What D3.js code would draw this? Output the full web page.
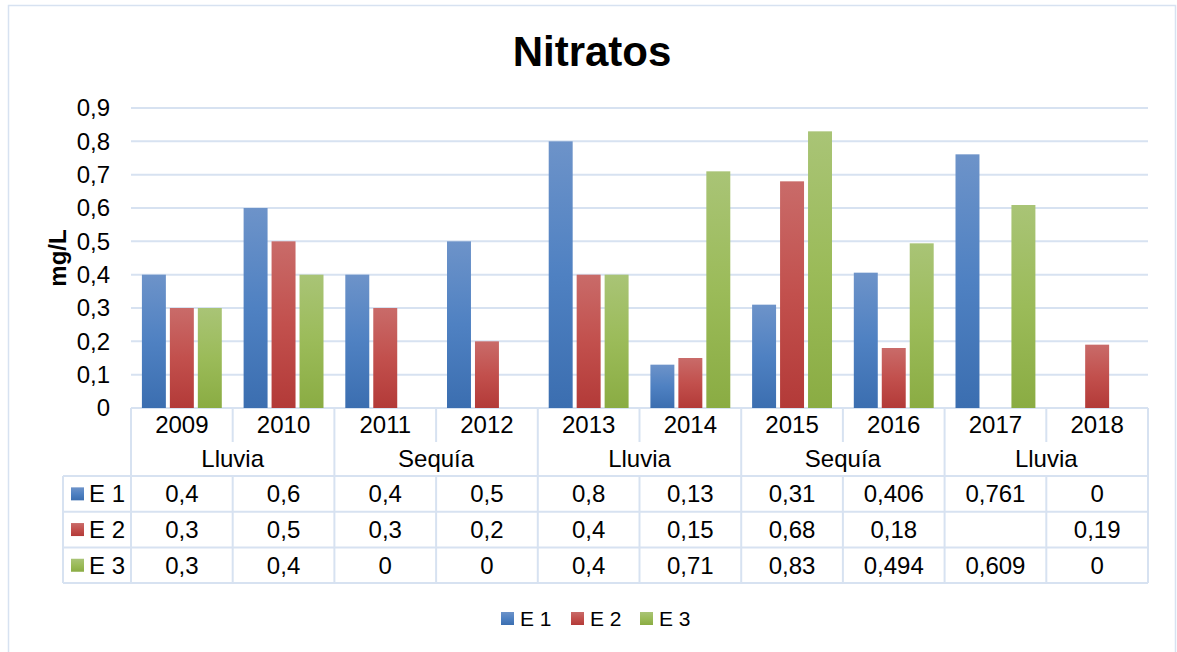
<!DOCTYPE html>
<html>

<head>
    <meta charset="UTF-8">
    <title>Nitratos</title>
</head>
<style>
    body {
        margin: 0;
        background: #ffffff;
    }
    text {
        font-family: "Liberation Sans", Arial, sans-serif;
        fill: #000000;
    }
</style>

<body>

    <!-- Create a div where the graph will take place -->
    <div id="my_dataviz"></div>

    <!-- Load d3.js -->
    <script src="https://d3js.org/d3.v7.min.js"></script>

    <script>
        // Data
        var years = ["2009", "2010", "2011", "2012", "2013", "2014", "2015", "2016", "2017", "2018"];
        var periods = ["Lluvia", "Sequía", "Lluvia", "Sequía", "Lluvia"];
        var seriesNames = ["E 1", "E 2", "E 3"];
        var e1 = [0.4, 0.6, 0.4, 0.5, 0.8, 0.13, 0.31, 0.406, 0.761, 0];
        var e2 = [0.3, 0.5, 0.3, 0.2, 0.4, 0.15, 0.68, 0.18, null, 0.19];
        var e3 = [0.3, 0.4, 0, 0, 0.4, 0.71, 0.83, 0.494, 0.609, 0];
        var yTicks = [0, 0.1, 0.2, 0.3, 0.4, 0.5, 0.6, 0.7, 0.8, 0.9];

        var seriesValues = [e1, e2, e3];
        // gradient stops per series: top, middle, bottom
        var colors = [
            ["#6d93c9", "#4f81c2", "#3b6eb0"],
            ["#c96b69", "#c2504d", "#b33a38"],
            ["#a9c476", "#9bbb59", "#8aac43"]
        ];
        var lineColor = "#d7e2f1";

        var W = 1177, H = 652;
        // plot area (note: "top" is reserved on window, so use plot* names)
        var plotLeft = 131, plotRight = 1148, plotTop = 108, plotBottom = 408;
        // table rows
        var yearRowBottom = 442, groupRowBottom = 476, rowH = 35.7;
        var tableLeft = 63;
        var fontSize = "24px";

        var svg = d3.select("#my_dataviz")
            .append("svg")
            .attr("width", W)
            .attr("height", H);

        // gradients
        var defs = svg.append("defs");
        colors.forEach(function (c, i) {
            var g = defs.append("linearGradient")
                .attr("id", "grad" + i)
                .attr("x1", 0).attr("y1", 0)
                .attr("x2", 0).attr("y2", 1);
            g.append("stop").attr("offset", "0%").attr("stop-color", c[0]);
            g.append("stop").attr("offset", "50%").attr("stop-color", c[1]);
            g.append("stop").attr("offset", "100%").attr("stop-color", c[2]);
        });

        // outer chart border
        svg.append("rect")
            .attr("x", 8.5).attr("y", 5.5)
            .attr("width", 1167).attr("height", 700)
            .attr("fill", "none")
            .attr("stroke", lineColor)
            .attr("stroke-width", 1.5);

        // Title
        svg.append("text")
            .attr("x", 592)
            .attr("y", 66)
            .attr("text-anchor", "middle")
            .style("font-size", "42px")
            .style("font-weight", "bold")
            .text("Nitratos");

        // scales
        var x0 = d3.scaleBand()
            .domain(years)
            .range([plotLeft, plotRight])
            .padding(0);

        var x1 = d3.scaleBand()
            .domain(seriesNames)
            .range([0, x0.bandwidth()])
            .paddingInner(0.143)
            .paddingOuter(0.39);

        var y = d3.scaleLinear()
            .domain([0, 0.9])
            .range([plotBottom, plotTop]);

        // gridlines
        svg.append("g")
            .selectAll("line")
            .data(yTicks)
            .enter()
            .append("line")
            .attr("x1", plotLeft)
            .attr("x2", plotRight)
            .attr("y1", function (d) { return y(d); })
            .attr("y2", function (d) { return y(d); })
            .attr("stroke", lineColor)
            .attr("stroke-width", 2);

        // Y axis labels
        var yAxis = d3.axisLeft(y)
            .tickValues(yTicks)
            .tickSize(0)
            .tickPadding(0)
            .tickFormat(function (d) { return d === 0 ? "0" : d3.format(".1f")(d).replace(".", ","); });
        var yg = svg.append("g")
            .attr("transform", "translate(110,0)")
            .call(yAxis);
        yg.select(".domain").remove();
        yg.selectAll("text")
            .style("font-family", "'Liberation Sans', Arial, sans-serif")
            .style("font-size", fontSize)
            .attr("fill", "#000");

        // Y axis title
        svg.append("text")
            .attr("transform", "translate(66,258)rotate(-90)")
            .attr("text-anchor", "middle")
            .style("font-size", fontSize)
            .style("font-weight", "bold")
            .text("mg/L");

        // Bars
        var flat = [];
        years.forEach(function (yr, i) {
            seriesValues.forEach(function (vals, s) {
                if (vals[i] !== null && vals[i] > 0) {
                    flat.push({ year: yr, s: s, value: vals[i] });
                }
            });
        });

        svg.append("g")
            .selectAll("rect")
            .data(flat)
            .enter()
            .append("rect")
            .attr("x", function (d) { return x0(d.year) + x1(seriesNames[d.s]); })
            .attr("width", x1.bandwidth())
            .attr("y", function (d) { return y(d.value); })
            .attr("height", function (d) { return y(0) - y(d.value); })
            .attr("fill", function (d) { return "url(#grad" + d.s + ")"; });

        // Data table
        var table = svg.append("g");
        var rowTop = function (r) { return groupRowBottom + r * rowH; };
        var tableBottom = rowTop(3);

        function hline(xa, xb, yp) {
            table.append("line")
                .attr("x1", xa).attr("x2", xb)
                .attr("y1", yp).attr("y2", yp)
                .attr("stroke", lineColor).attr("stroke-width", 2);
        }
        function vline(xp, ya, yb) {
            table.append("line")
                .attr("x1", xp).attr("x2", xp)
                .attr("y1", ya).attr("y2", yb)
                .attr("stroke", lineColor).attr("stroke-width", 2);
        }

        // horizontal lines of the value rows
        for (var r = 0; r <= 3; r++) {
            hline(tableLeft, plotRight, rowTop(r));
        }
        // verticals
        vline(tableLeft, groupRowBottom, tableBottom);
        vline(plotLeft, plotBottom, tableBottom);
        vline(plotRight, plotBottom, tableBottom);
        years.forEach(function (yr, i) {
            if (i === 0) return;
            var xp = x0(yr);
            if (i % 2 === 0) {
                vline(xp, plotBottom, tableBottom);
            } else {
                vline(xp, plotBottom, yearRowBottom);
                vline(xp, groupRowBottom, tableBottom);
            }
        });

        // year labels
        table.selectAll(".yr")
            .data(years)
            .enter()
            .append("text")
            .attr("class", "yr")
            .attr("x", function (d) { return x0(d) + x0.bandwidth() / 2; })
            .attr("y", 433)
            .attr("text-anchor", "middle")
            .style("font-size", fontSize)
            .text(function (d) { return d; });

        // period labels
        table.selectAll(".per")
            .data(periods)
            .enter()
            .append("text")
            .attr("class", "per")
            .attr("x", function (d, i) { return x0(years[i * 2]) + x0.bandwidth(); })
            .attr("y", 467)
            .attr("text-anchor", "middle")
            .style("font-size", fontSize)
            .text(function (d) { return d; });

        // value rows
        seriesValues.forEach(function (vals, s) {
            var cy = rowTop(s) + rowH / 2;
            table.append("rect")
                .attr("x", 71).attr("y", cy - 6.5)
                .attr("width", 13).attr("height", 13)
                .attr("fill", "url(#grad" + s + ")");
            table.append("text")
                .attr("x", 89)
                .attr("y", cy + 8.5)
                .style("font-size", fontSize)
                .text(seriesNames[s]);
            table.selectAll(".v" + s)
                .data(vals)
                .enter()
                .append("text")
                .attr("class", "v" + s)
                .attr("x", function (d, i) { return x0(years[i]) + x0.bandwidth() / 2; })
                .attr("y", cy + 8.5)
                .attr("text-anchor", "middle")
                .style("font-size", fontSize)
                .text(function (d) { return d === null ? "" : String(d).replace(".", ","); });
        });

        // Legend
        var legendX = [501, 571, 640];
        var legend = svg.append("g");
        seriesNames.forEach(function (name, s) {
            legend.append("rect")
                .attr("x", legendX[s]).attr("y", 612)
                .attr("width", 13).attr("height", 13)
                .attr("fill", "url(#grad" + s + ")");
            legend.append("text")
                .attr("x", legendX[s] + 19)
                .attr("y", 626)
                .style("font-size", "21px")
                .text(name);
        });
    </script>
</body>

</html>
